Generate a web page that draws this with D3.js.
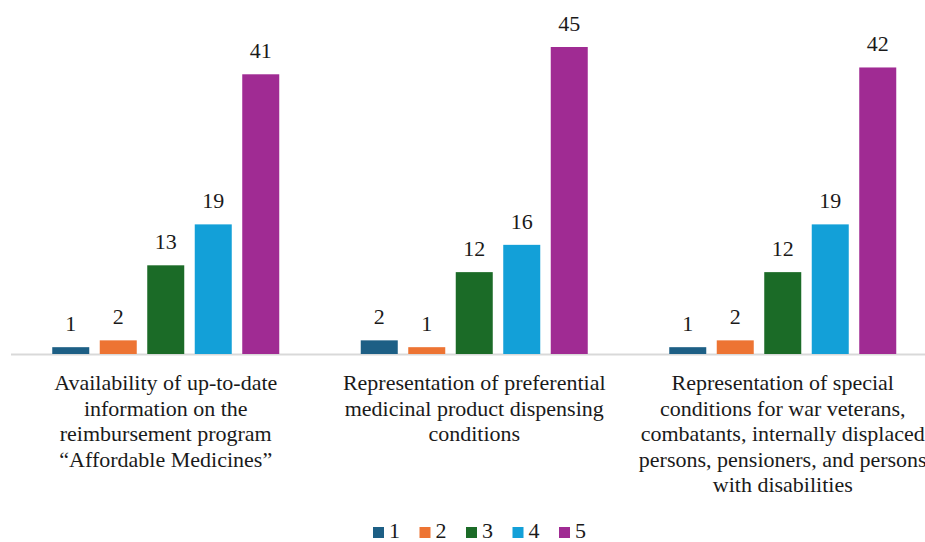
<!DOCTYPE html>
<html><head><meta charset="utf-8">
<script src="https://cdn.jsdelivr.net/npm/d3@7"></script>
<style>html,body{margin:0;padding:0;background:#fff;overflow:hidden}
svg text{font-family:"Liberation Serif","Times New Roman","DejaVu Serif",serif;}</style>
</head><body>
<svg id="chart" width="925" height="542"></svg>
<script>
const categories = [
  ["Availability of up-to-date", "information on the", "reimbursement program", "\u201cAffordable Medicines\u201d"],
  ["Representation of preferential", "medicinal product dispensing", "conditions"],
  ["Representation of special", "conditions for war veterans,", "combatants, internally displaced", "persons, pensioners, and persons", "with disabilities"]
];
const seriesNames = ["1", "2", "3", "4", "5"];
const s1 = [1, 2, 1];
const s2 = [2, 1, 2];
const s3 = [13, 12, 12];
const s4 = [19, 16, 19];
const s5 = [41, 45, 42];
const seriesValues = [s1, s2, s3, s4, s5];
const colors = ["#1d5f85", "#ed7433", "#1b6b27", "#13a0d8", "#a02b93"];

const svg = d3.select("#chart");
const x0 = d3.scaleBand().domain(d3.range(categories.length)).range([11.5, 937]).padding(0);
const x1 = d3.scaleBand().domain(seriesNames).range([40.75, 267.75]).paddingInner(0.221).paddingOuter(0);
const y = d3.scaleLinear().domain([0, 45]).range([354, 47]);

// baseline
svg.append("line").attr("x1", 11).attr("x2", 925).attr("y1", 354.5).attr("y2", 354.5)
  .attr("stroke", "#d9d9d9").attr("stroke-width", 2);

const groups = svg.selectAll("g.grp").data(categories).join("g")
  .attr("class", "grp").attr("transform", (d, i) => `translate(${x0(i)},0)`);

groups.each(function(cat, ci) {
  const g = d3.select(this);
  seriesNames.forEach((s, si) => {
    const v = seriesValues[si][ci];
    g.append("rect").attr("x", x1(s)).attr("width", x1.bandwidth())
      .attr("y", y(v)).attr("height", y(0) - y(v)).attr("fill", colors[si]);
    g.append("text").attr("x", x1(s) + x1.bandwidth() / 2).attr("y", y(v) - 16)
      .attr("text-anchor", "middle").attr("font-size", 22)
      .attr("fill", "#1a1a1a").text(v);
  });
  const t = g.append("text").attr("text-anchor", "middle")
    .attr("font-size", 22).attr("fill", "#1a1a1a");
  cat.forEach((line, li) => {
    t.append("tspan").attr("x", x0.bandwidth() / 2).attr("y", 390 + li * 25.5).text(line);
  });
});

// legend
const legend = svg.append("g");
seriesNames.forEach((s, i) => {
  const lx = 373 + i * 46.5;
  legend.append("rect").attr("x", lx).attr("y", 527).attr("width", 11).attr("height", 11).attr("fill", colors[i]);
  legend.append("text").attr("x", lx + 16).attr("y", 538).attr("font-size", 22)
    .attr("fill", "#1a1a1a").text(s);
});
</script>
</body></html>
